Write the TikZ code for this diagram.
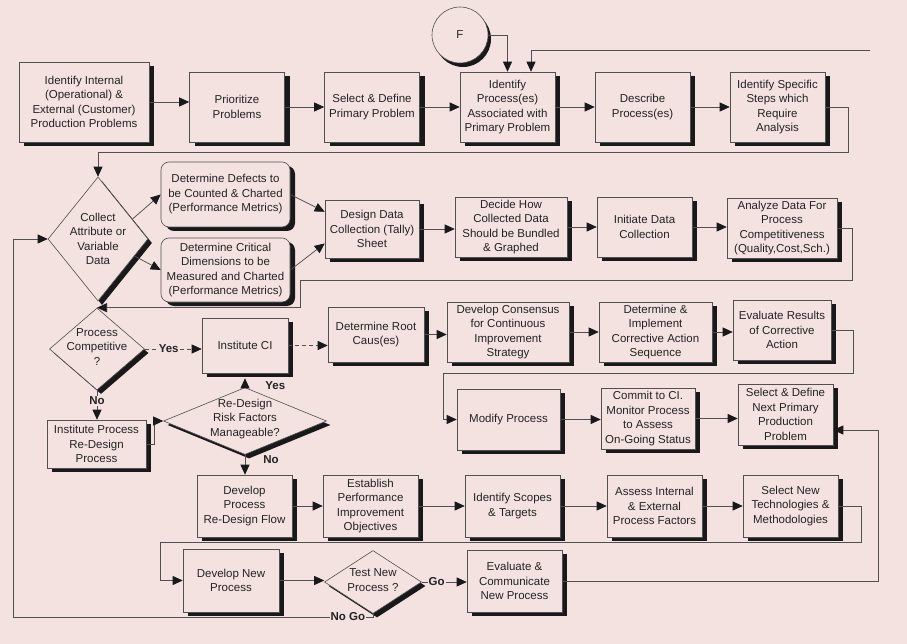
\documentclass[tikz,border=0pt]{standalone}
\usepackage{fontspec}
\setmainfont{Liberation Sans}
\usepackage{xcolor}
\usepackage{tikz}
\usetikzlibrary{arrows.meta,shapes.geometric,shadows}
\definecolor{paper}{RGB}{244,226,225}
\definecolor{ink}{RGB}{35,35,35}
\definecolor{linecol}{RGB}{80,80,80}

\begin{document}
\begin{tikzpicture}[x=1pt,y=-1pt,
  font=\fontsize{11.5}{14.5}\selectfont, text=ink,
  stepbox/.style={draw=linecol, line width=0.6pt, fill=paper, align=center, inner sep=0pt,
    minimum width=95pt, minimum height=62pt,
    drop shadow={shadow xshift=5pt, shadow yshift=-4pt, fill=black!90, opacity=1}},
  softbox/.style={stepbox, rounded corners=8pt},
  decision/.style={diamond, draw=linecol, line width=0.6pt, fill=paper, inner sep=0pt,
    drop shadow={shadow xshift=4pt, shadow yshift=-4pt, fill=black!90, opacity=1}},
  dtext/.style={align=center, inner sep=0pt},
  arr/.style={draw=linecol, line width=0.75pt, -{Triangle[length=10pt,width=9pt,color=black!90]}},
  lbl/.style={font=\fontsize{11.5}{14}\selectfont\bfseries, fill=paper, inner sep=1pt}]
  \useasboundingbox (0,0) rectangle (907,644);
  \fill[paper] (0,0) rectangle (907,644);

  \node[circle, draw=linecol, line width=0.6pt, fill=paper, minimum size=56pt, inner sep=0pt,
    drop shadow={shadow xshift=3pt, shadow yshift=-4pt, fill=black!90, opacity=1}] (f) at (460,35) {F};

  \node[stepbox, minimum width=130pt, minimum height=80pt] (prob) at (84,102) {Identify Internal\\(Operational) \&\\External (Customer)\\Production Problems};
  \node[stepbox, minimum height=70pt] (prior) at (237,107) {Prioritize\\Problems};
  \node[stepbox, minimum height=70pt] (select) at (372,107) {Select \& Define\\Primary Problem};
  \node[stepbox, minimum height=70pt] (identproc) at (507.5,107) {Identify\\Process(es)\\Associated with\\Primary Problem};
  \node[stepbox, minimum height=70pt] (describe) at (642.5,107) {Describe\\Process(es)};
  \node[stepbox, minimum height=70pt] (steps) at (777.5,107) {Identify Specific\\Steps which\\Require\\Analysis};

  \node[decision, minimum width=100pt, minimum height=124pt] (collect) at (98,239) {};
  \node[dtext] (collect-t) at (collect) {Collect\\Attribute or\\Variable\\Data};
  \node[softbox, minimum width=129pt, minimum height=65pt] (defects) at (225.5,194.5) {Determine Defects to\\be Counted \& Charted\\(Performance Metrics)};
  \node[softbox, minimum width=129pt, minimum height=64pt] (critical) at (225.5,270) {Determine Critical\\Dimensions to be\\Measured and Charted\\(Performance Metrics)};
  \node[stepbox, minimum width=94pt, minimum height=58pt] (design) at (372,229) {Design Data\\Collection (Tally)\\Sheet};
  \node[stepbox, minimum width=112pt, minimum height=60pt] (decide) at (511,227) {Decide How\\Collected Data\\Should be Bundled\\\& Graphed};
  \node[stepbox, minimum height=60pt] (initiate) at (644.5,227) {Initiate Data\\Collection};
  \node[stepbox, minimum width=110pt, minimum height=60pt] (analyze) at (782,228) {Analyze Data For\\Process\\Competitiveness\\(Quality,Cost,Sch.)};

  \node[decision, minimum width=95pt, minimum height=82pt] (compet) at (97,349) {};
  \node[dtext] (compet-t) at ([yshift=2pt]compet) {Process\\Competitive\\?};
  \node[stepbox, minimum width=86pt, minimum height=55pt] (ci) at (245,345.5) {Institute CI};
  \node[stepbox, minimum width=96pt, minimum height=55pt] (root) at (376,334.5) {Determine Root\\Caus(es)};
  \node[stepbox, minimum width=122pt, minimum height=60pt] (consensus) at (508,332) {Develop Consensus\\for Continuous\\Improvement\\Strategy};
  \node[stepbox, minimum width=113pt, minimum height=60pt] (implement) at (655.5,332) {Determine \&\\Implement\\Corrective Action\\Sequence};
  \node[stepbox, minimum width=98pt, minimum height=60pt] (evaluate) at (782,330) {Evaluate Results\\of Corrective\\Action};

  \node[decision, minimum width=163pt, minimum height=67pt] (redesign) at (245,421) {};
  \node[dtext] (redesign-t) at ([yshift=2pt]redesign) {Re-Design\\Risk Factors\\Manageable?};
  \node[stepbox, minimum width=99pt, minimum height=48pt] (instproc) at (96.5,444) {Institute Process\\Re-Design\\Process};
  \node[stepbox, minimum width=103pt, minimum height=61pt] (modify) at (508.5,419.5) {Modify Process};
  \node[stepbox, minimum width=94pt, minimum height=61pt] (commit) at (648,418.5) {Commit to CI.\\Monitor Process\\to Assess\\On-Going Status};
  \node[stepbox, minimum height=61pt] (nextprob) at (785.5,414.5) {Select \& Define\\Next Primary\\Production\\Problem};

  \node[stepbox] (redev) at (244.5,506) {Develop\\Process\\Re-Design Flow};
  \node[stepbox] (objectives) at (370.5,506) {Establish\\Performance\\Improvement\\Objectives};
  \node[stepbox] (scopes) at (512.5,506) {Identify Scopes\\\& Targets};
  \node[stepbox] (assess) at (654.5,506) {Assess Internal\\\& External\\Process Factors};
  \node[stepbox] (newtech) at (790.5,506) {Select New\\Technologies \&\\Methodologies};

  \node[stepbox, minimum width=96pt, minimum height=63pt] (newdev) at (231,580.5) {Develop New\\Process};
  \node[decision, minimum width=97pt, minimum height=63pt] (test) at (373,582) {};
  \node[dtext] (test-t) at ([yshift=2pt]test) {Test New\\Process ?};
  \node[stepbox] (evalcomm) at (514.5,581) {Evaluate \&\\Communicate\\New Process};

  \coordinate (topin) at (870,50);
  \draw[arr] (prob.east) -- (prob.east -| prior.west);
  \draw[arr] (prior) -- (select);
  \draw[arr] (select) -- (identproc);
  \draw[arr] (identproc) -- (describe);
  \draw[arr] (describe) -- (steps);
  \draw[arr] (f.east) -| (identproc.north);
  \draw[arr] (topin) -| ([xshift=23.5pt]identproc.north);
  \draw[arr] (steps.east) -- ++(23,0) -- ++(0,45) -| (collect.north);

  \draw[arr] (collect.30) -- (defects.west);
  \draw[arr] (collect.-25) -- (critical.west);
  \draw[arr] (defects.east) -- (design.160);
  \draw[arr] (critical.east) -- (design.197);
  \draw[arr] (design.east) -- (design.east -| decide.west);
  \draw[arr] (decide) -- (initiate);
  \draw[arr] (initiate.east) -- (initiate.east -| analyze.west);
  \draw[arr] (analyze.east) -- ++(15,0) |- (300,280) |- (compet.north);

  \draw[arr, dash pattern=on 4pt off 3pt] (compet.east) -- node[lbl, pos=0.42] {Yes} (compet.east -| ci.west);
  \draw[arr, dash pattern=on 4pt off 3pt] (ci.east) -- (ci.east -| root.west);
  \draw[arr] (root.east) -- (root.east -| consensus.west);
  \draw[arr] (consensus) -- (implement);
  \draw[arr] (implement.east) -- (implement.east -| evaluate.west);
  \draw[arr] (evaluate.east) -- ++(22,0) |- (443,373) |- (modify.west);

  \draw[arr] (redesign.north) -- node[lbl, fill=none, pos=0.2, right=19pt] {Yes} ([yshift=-5pt]ci.south);
  \draw[arr] (compet.south) -- node[lbl, pos=0.35] {No} (compet.south |- instproc.north);
  \draw[arr] (instproc.east) -- ++(8,0) |- (redesign.west);
  \draw[arr] (redesign.south) -- node[lbl, fill=none, pos=0.25, right=17pt] {No} (redesign.south |- redev.north);
  \draw[arr] (modify.east) -- (modify.east -| commit.west);
  \draw[arr] (commit.east) -- (commit.east -| nextprob.west);
  \draw[arr] (evalcomm.east) -- ++(316,0) |- ([yshift=-15.5pt]nextprob.east);

  \draw[arr] (redev) -- (objectives);
  \draw[arr] (objectives) -- (scopes);
  \draw[arr] (scopes) -- (assess);
  \draw[arr] (assess) -- (newtech);
  \draw[arr] (newtech.east) -- ++(23,0) |- (160,542) |- (newdev.west);

  \draw[arr] (newdev.east) -- (newdev.east -| test.west);
  \draw[arr] (test.east) -- node[lbl, pos=0.33] {Go} (test.east -| evalcomm.west);
  \draw[arr] (test.south) |- node[lbl, pos=0.535] {No Go} (13,617) |- (collect.west);
\end{tikzpicture}
\end{document}
